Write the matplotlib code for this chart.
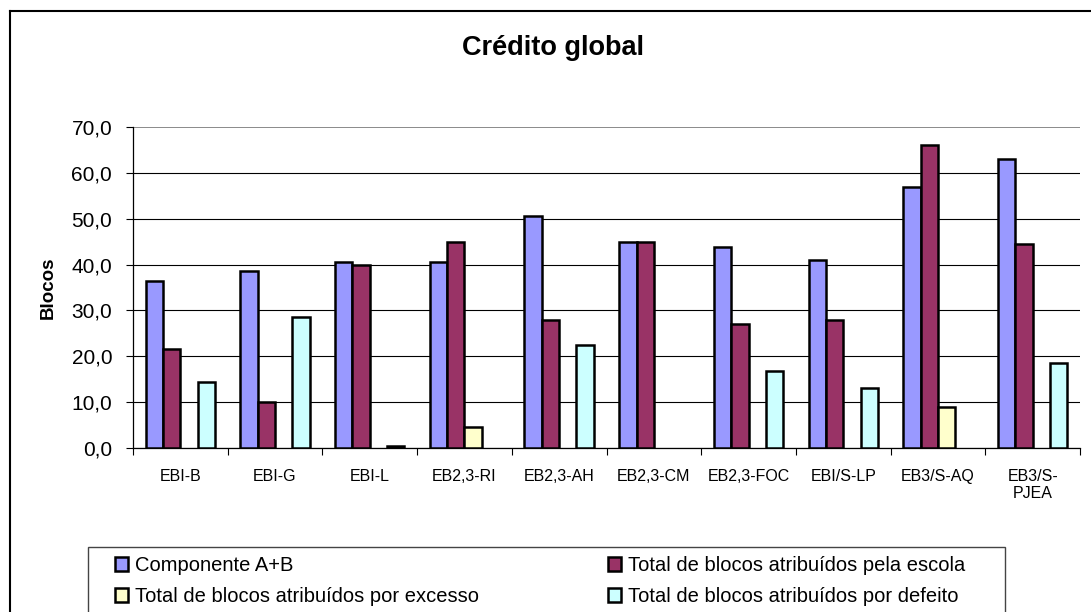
import matplotlib.pyplot as plt
import numpy as np
from matplotlib.patches import Rectangle
from matplotlib.lines import Line2D
from matplotlib.ticker import FuncFormatter, FixedLocator

plt.rcParams['font.family'] = ['Liberation Sans', 'DejaVu Sans']

escolas = ['EBI-B', 'EBI-G', 'EBI-L', 'EB2,3-RI', 'EB2,3-AH', 'EB2,3-CM',
           'EB2,3-FOC', 'EBI/S-LP', 'EB3/S-AQ', 'EB3/S-\nPJEA']
componente_ab = [36.5, 38.5, 40.5, 40.5, 50.5, 45.0, 43.75, 41.0, 57.0, 63.0]
blocos_escola = [21.5, 10.0, 40.0, 45.0, 28.0, 45.0, 27.0, 28.0, 66.0, 44.5]
blocos_excesso = [0, 0, 0, 4.5, 0, 0, 0, 0, 9.0, 0]
blocos_defeito = [14.5, 28.5, 0.5, 0, 22.5, 0, 16.75, 13.0, 0, 18.5]

series = [
    ('Componente A+B', componente_ab, '#9999FF'),
    ('Total de blocos atribuídos pela escola', blocos_escola, '#993366'),
    ('Total de blocos atribuídos por excesso', blocos_excesso, '#FFFFCC'),
    ('Total de blocos atribuídos por defeito', blocos_defeito, '#CCFFFF'),
]

fig = plt.figure(figsize=(10.91, 6.12), dpi=100)
ax = fig.add_axes([133 / 1091, 1 - 448 / 612, 947 / 1091, 321 / 612])

x = np.arange(len(escolas))
w = 0.183
handles = {}
for i, (nome, vals, cor) in enumerate(series):
    vals = np.array(vals, dtype=float)
    m = vals > 0
    b = ax.bar(x[m] + (i - 1.5) * w, vals[m], width=w, color=cor,
               edgecolor='black', linewidth=1.8, zorder=3)
    handles[nome] = b

ax.set_xlim(-0.5, len(escolas) - 0.5)
ax.set_ylim(0, 70)
ax.set_yticks(np.arange(0, 71, 10))
ax.yaxis.set_major_formatter(FuncFormatter(lambda v, p: f'{v:.1f}'.replace('.', ',')))
ax.grid(axis='y', color='black', linewidth=0.8, zorder=0)
ax.set_axisbelow(True)
# a linha do topo (70) sai mais clara
ax.get_ygridlines()[-1].set_color('#777777')
ax.get_ygridlines()[-1].set_linewidth(1.2)

ax.set_xticks(x)
ax.set_xticklabels(escolas, fontsize=11.5)
ax.xaxis.set_minor_locator(FixedLocator(np.arange(-0.5, len(escolas), 1.0)))
ax.tick_params(axis='x', which='major', length=0, pad=15)
ax.tick_params(axis='x', which='minor', length=5, width=0.8, direction='out')
ax.tick_params(axis='y', length=5, width=0.8, direction='out', labelsize=15, pad=10)

for s in ['top', 'right']:
    ax.spines[s].set_visible(False)
for s in ['left', 'bottom']:
    ax.spines[s].set_linewidth(0.9)

ax.set_ylabel('Blocos', fontsize=13.5, fontweight='bold')
ax.yaxis.set_label_coords(-0.080, 0.5)

fig.text(553 / 1091, 1 - 48 / 612, 'Crédito global', fontsize=19.5,
         fontweight='bold', ha='center', va='center')

# moldura exterior do gráfico
fig.add_artist(Line2D([10 / 1091, 10 / 1091], [-0.05, 1 - 11 / 612],
                      transform=fig.transFigure, color='black', linewidth=1.5))
fig.add_artist(Line2D([10 / 1091, 1.05], [1 - 11 / 612, 1 - 11 / 612],
                      transform=fig.transFigure, color='black', linewidth=1.5))

# caixa da legenda
fig.add_artist(Rectangle((88 / 1091, -0.05), 917 / 1091, 0.05 + 1 - 547 / 612,
                         transform=fig.transFigure, fill=False,
                         edgecolor='#444444', linewidth=1.0))

ordem = [series[0][0], series[2][0], series[1][0], series[3][0]]
leg = fig.legend([handles[n] for n in ordem], ordem, ncol=2, frameon=False,
                 loc='upper left', bbox_to_anchor=(115 / 1091, 1 - 556 / 612),
                 fontsize=14.5, handlelength=0.65, handleheight=0.65,
                 handletextpad=0.35, columnspacing=6.4, labelspacing=0.6,
                 borderaxespad=0, borderpad=0)

fig.savefig('out.png', dpi=100)
